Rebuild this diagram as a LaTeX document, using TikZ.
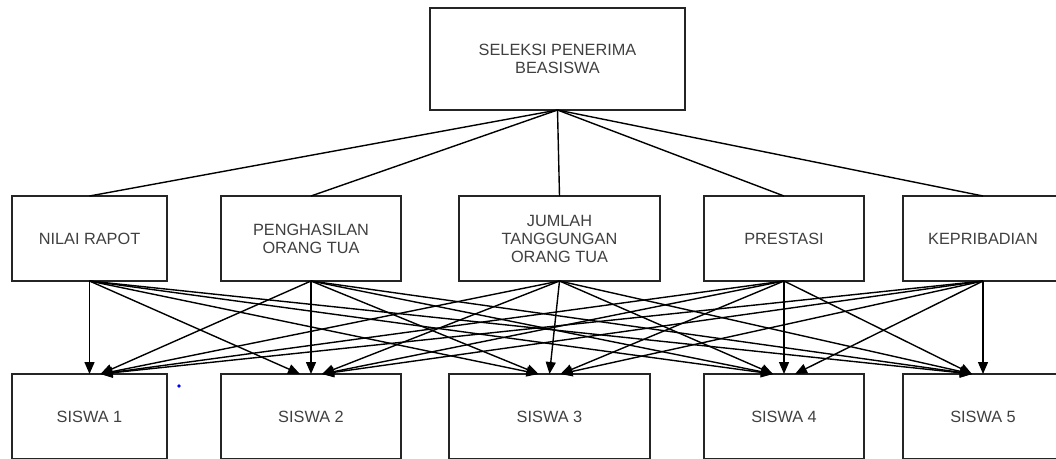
\documentclass[tikz,border=0pt]{standalone}
\usepackage{fontspec}
\setmainfont{Liberation Sans}
\usetikzlibrary{arrows.meta,calc}
\definecolor{txtgray}{HTML}{404040}
\definecolor{boxline}{HTML}{252525}
\tikzset{
  box/.style={draw=boxline, line width=1.6pt, fill=white, inner sep=0pt, outer sep=0pt,
    align=center, text=txtgray, font=\fontsize{16.3}{18}\selectfont},
  link/.style={draw=black, line width=1.4pt},
  arr/.style={draw=black, line width=1.4pt, -{Triangle[length=12pt,width=10pt]}}
}
\begin{document}
\begin{tikzpicture}[x=1pt,y=-1pt]
\useasboundingbox (0,0) rectangle (1056,458);
\clip (0,0) rectangle (1056,458);
% top
\node[box, minimum width=255pt, minimum height=102pt] (top) at (557.5,59) {SELEKSI PENERIMA\\BEASISWA};
% middle row
\node[box, minimum width=155pt, minimum height=85pt] (m1) at (89.5,238.5) {NILAI RAPOT};
\node[box, minimum width=180pt, minimum height=85pt] (m2) at (311,238.5) {PENGHASILAN\\ORANG TUA};
\node[box, minimum width=201pt, minimum height=85pt] (m3) at (559.5,238.5) {JUMLAH\\TANGGUNGAN\\ORANG TUA};
\node[box, minimum width=160pt, minimum height=85pt] (m4) at (784,238.5) {PRESTASI};
\node[box, minimum width=160pt, minimum height=85pt] (m5) at (983,238.5) {KEPRIBADIAN};
% bottom row
\node[box, minimum width=155pt, minimum height=85pt] (s1) at (89.5,416.5) {SISWA 1};
\node[box, minimum width=180pt, minimum height=85pt] (s2) at (311,416.5) {SISWA 2};
\node[box, minimum width=201pt, minimum height=85pt] (s3) at (549.5,416.5) {SISWA 3};
\node[box, minimum width=160pt, minimum height=85pt] (s4) at (784,416.5) {SISWA 4};
\node[box, minimum width=160pt, minimum height=85pt] (s5) at (983,416.5) {SISWA 5};
% top links
\foreach \m in {m1,m2,m3,m4,m5} {
  \draw[link] (top.south) -- (\m.north);
}
% arrows
\foreach \i in {1,...,5} {
  \foreach \j in {1,...,5} {
    \pgfmathtruncatemacro{\d}{\i<\j ? -11 : (\i>\j ? 11 : 0)}
    \draw[arr] (m\i.south) -- ($(s\j.north)+(\d,0)$);
  }
}
% blue dot
\fill[blue] (179,386) circle (1.8pt);
\end{tikzpicture}
\end{document}
